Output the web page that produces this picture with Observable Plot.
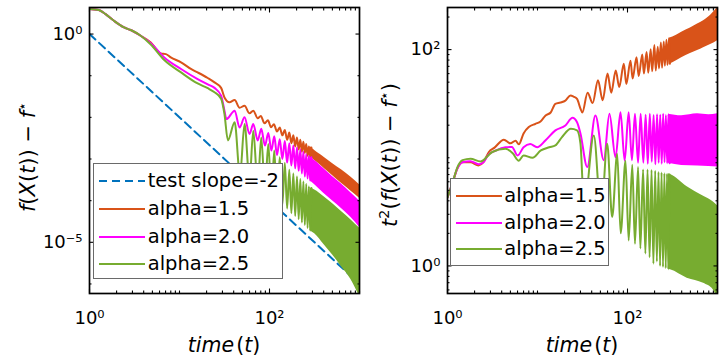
<!DOCTYPE html>
<html><head><meta charset="utf-8">
<script src="https://cdn.jsdelivr.net/npm/d3@7"></script>
<script src="https://cdn.jsdelivr.net/npm/@observablehq/plot@0.6"></script>
<style>
body{margin:0;background:#fff;}
#wrap{position:relative;width:727px;height:360px;overflow:hidden;font-family:"DejaVu Sans",sans-serif;color:#000;}
#wrap svg.plot{position:absolute;top:0;}
.lab{position:absolute;white-space:nowrap;font-size:20.5px;line-height:1;transform:translate(-50%,-50%);}
.ylab{transform:translate(-50%,-50%) rotate(-90deg);font-size:21px;}
.lab sup{font-size:0.68em;vertical-align:0.5em;line-height:0;}
.legend{position:absolute;background:#fff;border:1px solid #6a6a6a;box-sizing:border-box;}
.legend .row{position:absolute;left:0;height:0;}
.legend .row svg{position:absolute;top:-2px;}
.legend .row span{position:absolute;top:0;transform:translateY(-52%);white-space:nowrap;font-size:19.5px;line-height:1;}
</style></head>
<body><div id="wrap"></div>
<script>
// ---------- series names / colours ----------
const seriesNames = ["alpha=1.5", "alpha=2.0", "alpha=2.5"];
const seriesColors = ["#D95319", "#FF00FF", "#77AC30"];
const slopeName = "test slope=-2";
const slopeColor = "#0072BD";

// ---------- LEFT panel: f(X(t)) - f*  ----------
const slopeT = [1, 1000];
const slopeF = [1, 1e-6];

const tL15 = [1,1.27,1.51,1.87,2.42,2.87,3.71,4.8,6.2,7.07,8.0,10.4,13.4,15.9,20.6,24.5,29,31.6,35.9,41,46.5,52.8,60,66,74,80,88,96,104,112,121,130,139,148,157,166,175,184,193,202,211,220,229,238,247,256,265,274,283,292];
const fL15 = [4.0,3.76,3.0,2.08,1.44,1.25,0.91,0.63,0.34,0.33,0.275,0.21,0.145,0.12,0.088,0.069,0.051,0.030,0.023,0.026,0.017,0.019,0.0125,0.0145,0.0095,0.0108,0.0072,0.0085,0.0058,0.0068,0.0046,0.0057,0.0037,0.0050,0.0029,0.0043,0.0024,0.0037,0.0020,0.0033,0.0017,0.0029,0.0015,0.0026,0.0014,0.0023,0.0012,0.0020,0.0011,0.0019];
const tL20 = [1,1.27,1.51,1.87,2.42,2.87,3.71,4.8,6.77,10.4,15.9,20.6,24.5,29,31.6,33.2,41,46.5,52.8,60,66,74,81,89,97,105,113,121,130,139,148,157,166,175,184,193,202,211,220,229,238,247,256,265,274,283,292];
const fL20 = [4.0,3.76,3.0,2.08,1.44,1.25,0.91,0.60,0.275,0.145,0.083,0.062,0.051,0.033,0.0145,0.0091,0.0145,0.0057,0.0100,0.0040,0.0069,0.0028,0.0053,0.0021,0.0042,0.0016,0.0035,0.00125,0.0030,0.0010,0.0027,0.00082,0.0024,0.0007,0.0021,0.0006,0.0019,0.00052,0.0017,0.00045,0.0015,0.00038,0.0013,0.00034,0.0012,0.0003,0.0011];
const tL25 = [1,1.27,1.51,1.87,2.42,2.87,3.71,4.8,6.77,10.4,15.9,20.6,24.5,29,31.6,34.5,41,47,52.8,60,66,74,81,89,97,105,113,121,130,139,148,157,166,175,184,193,202,211,220,229,238,247,256,265,274,283,292];
const fL25 = [4.0,3.76,3.0,2.08,1.44,1.25,0.91,0.56,0.238,0.12,0.065,0.05,0.040,0.028,0.012,0.0028,0.0076,0.0004,0.0069,0.0003,0.0048,0.00022,0.0033,0.00017,0.0023,0.00013,0.0016,0.0001,0.0011,0.00008,0.0008,0.000065,0.00055,0.00005,0.00045,0.000043,0.00038,0.000036,0.00033,0.00003,0.00029,0.000026,0.00025,0.000022,0.00022,0.000019,0.0002];
// dense oscillation bands (upper / lower envelope)
const bandTL15 = [283,318,400,500,630,800,1000];
const hiL15 = [0.0020,0.0016,0.00112,0.00078,0.00055,0.00037,0.00024];
const loL15 = [0.0011,0.00092,0.00061,0.0004,0.00026,0.00017,0.000115];
const bandTL20 = [283,318,400,500,630,800,1000];
const hiL20 = [0.0011,0.00092,0.00059,0.00038,0.00025,0.000155,0.000098];
const loL20 = [0.0003,0.00024,0.00015,0.0001,0.000065,0.00004,0.000023];
const bandTL25 = [283,318,400,500,630,800,1000];
const hiL25 = [0.0002,0.00018,0.000125,0.000085,0.000055,0.000035,0.000022];
const loL25 = [0.000019,0.000016,0.000009,0.000005,0.0000026,0.0000013,0.0000005];

// ---------- RIGHT panel: t^2 (f(X(t)) - f*) ----------
const tR15 = [1,1.14,1.29,1.47,1.8,2.21,2.51,2.88,3.33,4.23,5.0,5.7,6.2,7.0,8.0,9.5,10.8,12.3,14,15.8,18,20.4,23.3,25.1,27.5,30,31.5,36,41,47,53,60,66,74,81,91,97,108,114,126,133,146,152,163,170,181,188,199,206,217,224,235,242,253,260,271,278,289,296];
const gR15 = [4.3,5.9,8.0,9.1,9.1,8.5,9.1,11.3,12.4,14.7,13.6,14.4,13.3,16.8,19.2,20.6,21.6,24.6,26.2,31.5,32.4,33.8,37.6,36.8,35,28.5,26.2,40,32,52,34,60,40,64,45,74,48,79,54,85,57,90,60,95,61,101,63,110,64,106,67,116,68,119,71,123,72,127,74];
const tR20 = [1,1.14,1.29,1.47,1.8,2.21,2.51,2.88,3.33,4.4,5.2,6.0,7.0,8.3,9.9,12.3,15.8,20.4,24.5,27.5,30,35.7,44,54.5,63,73.6,83.6,93,103,112,121,131,140,150,159,168,177,186,195,204,213,222,231,240,249,258,267,276,285,294];
const gR20 = [4.3,5.9,8.0,9.1,9.3,8.7,9.1,10.8,11.5,12.5,12.6,10.5,12.5,13.4,12.5,14.5,17.9,19.9,23.4,21.3,16.8,8.2,24.6,9.5,25.5,10.1,26.3,9.4,26.3,9.5,25.5,9.0,25.5,9.0,25,8.8,25.5,9.2,24.8,8.7,25.3,9.0,25,8.8,25.5,9.1,24.8,8.9,25.3,8.9];
const tR25 = [1,1.14,1.29,1.47,1.8,2.33,3.14,4.4,5.3,6.2,7.0,8.8,10.9,13.5,15.8,18.7,23.5,27.5,30,33,42.2,51,59.5,67.6,76.8,84,95,103,113,121,131,139,149,158,167,176,185,194,203,212,221,230,239,248,257,266,275,284,293];
const gR25 = [4.3,5.9,8.2,9.5,9.8,9.25,11.3,12.1,11.0,9.4,10.5,10.0,11.7,12.5,13.0,15.5,18.5,17.9,13.6,3.5,16.1,3.0,13.5,2.83,10.9,2.0,9.4,1.72,8.6,1.6,8.2,1.45,7.8,1.3,7.8,1.2,7.7,1.05,7.6,1.1,7.4,1.0,7.3,0.98,7.2,0.95,7.1,0.93,7.0];
const bandTR15 = [290,350,400,500,600,700,850,1000];
const hiR15 = [127,136,145,158,172,185,210,245];
const loR15 = [73,79,84,92,98,104,112,121];
const bandTR20 = [285,400,600,800,1000];
const hiR20 = [25.3,24.5,25.5,25,25.5];
const loR20 = [8.9,8.5,8.4,8.3,8.2];
const bandTR25 = [284,300,460,700,900,1000];
const hiR25 = [7.1,7.0,5.4,4.4,3.9,3.6];
const loR25 = [0.93,0.92,0.77,0.69,0.60,0.5];

// ---------- ticks ----------
const xMajor = [1, 100];
const xMinor = [2,3,4,5,6,7,8,9,10,20,30,40,50,60,70,80,90,200,300,400,500,600,700,800,900,1000];
const yMajorL = [1, 1e-5];
const yMinorL = [1e-6,1e-4,1e-3,1e-2,1e-1];
const yMajorR = [1, 100];
const yMinorR = [0.6,0.7,0.8,0.9,2,3,4,5,6,7,8,9,10,20,30,40,50,60,70,80,90,200];

const supMap = {"0":"⁰","1":"¹","2":"²","3":"³","4":"⁴","5":"⁵","6":"⁶","7":"⁷","8":"⁸","9":"⁹","-":"⁻"};
const fmt = d => "10" + String(Math.round(Math.log10(d))).split("").map(c => supMap[c]).join("");
const blank = () => "";

const rows = (ts, vs) => ts.map((t, i) => ({t, v: vs[i]}));
const bandRows = (ts, lo, hi) => ts.map((t, i) => ({t, lo: lo[i], hi: hi[i]}));

function axes(yMaj, yMin) {
  const o = {label: null, strokeWidth: 1.1};
  return [
    Plot.axisX(xMajor, {...o, anchor: "bottom", tickSize: -4.5, tickPadding: 22.5, tickFormat: fmt, fontSize: 18}),
    Plot.axisX(xMinor, {...o, anchor: "bottom", tickSize: -2.5, tickFormat: blank}),
    Plot.axisX(xMajor, {...o, anchor: "top", tickSize: -4.5, tickFormat: blank}),
    Plot.axisX(xMinor, {...o, anchor: "top", tickSize: -2.5, tickFormat: blank}),
    Plot.axisY(yMaj, {...o, anchor: "left", tickSize: -4.5, tickPadding: 11.5, tickFormat: fmt, fontSize: 18}),
    Plot.axisY(yMin, {...o, anchor: "left", tickSize: -2.5, tickFormat: blank}),
    Plot.axisY(yMaj, {...o, anchor: "right", tickSize: -4.5, tickFormat: blank}),
    Plot.axisY(yMin, {...o, anchor: "right", tickSize: -2.5, tickFormat: blank}),
    Plot.frame({stroke: "#000", strokeWidth: 1.7})
  ];
}

function seriesMarks(lines, bands) {
  const m = [];
  lines.forEach((L, i) => {
    m.push(Plot.areaY(bands[i], {x: "t", y1: "lo", y2: "hi", fill: seriesColors[i], curve: "monotone-x", clip: true}));
    m.push(Plot.line(L, {x: "t", y: "v", stroke: seriesColors[i], strokeWidth: 2, curve: "monotone-x", clip: true}));
  });
  return m;
}

const plotStyle = {fontFamily: "DejaVu Sans", fontSize: "18px", color: "#000", background: "none", overflow: "visible"};

const leftPlot = Plot.plot({
  width: 364, height: 360, marginTop: 7, marginBottom: 67, marginLeft: 89, marginRight: 5,
  style: plotStyle,
  x: {type: "log", domain: [1, 1000]},
  y: {type: "log", domain: [5.9e-7, 4.34]},
  marks: [
    Plot.line(rows(slopeT, slopeF), {x: "t", y: "v", stroke: slopeColor, strokeWidth: 2, strokeDasharray: "8,5", clip: true}),
    ...seriesMarks(
      [rows(tL15, fL15), rows(tL20, fL20), rows(tL25, fL25)],
      [bandRows(bandTL15, loL15, hiL15), bandRows(bandTL20, loL20, hiL20), bandRows(bandTL25, loL25, hiL25)]
    ),
    ...axes(yMajorL, yMinorL)
  ]
});

const rightPlot = Plot.plot({
  width: 363, height: 360, marginTop: 7, marginBottom: 67, marginLeft: 83, marginRight: 10,
  style: plotStyle,
  x: {type: "log", domain: [1, 1000]},
  y: {type: "log", domain: [0.556, 245]},
  marks: [
    ...seriesMarks(
      [rows(tR15, gR15), rows(tR20, gR20), rows(tR25, gR25)],
      [bandRows(bandTR15, loR15, hiR15), bandRows(bandTR20, loR20, hiR20), bandRows(bandTR25, loR25, hiR25)]
    ),
    ...axes(yMajorR, yMinorR)
  ]
});

const wrap = document.getElementById("wrap");
leftPlot.classList.add("plot"); leftPlot.style.left = "0px";
rightPlot.classList.add("plot"); rightPlot.style.left = "364px";
wrap.appendChild(leftPlot);
wrap.appendChild(rightPlot);

function addLabel(html, x, y, cls) {
  const d = document.createElement("div");
  d.className = "lab" + (cls ? " " + cls : "");
  d.style.left = x + "px"; d.style.top = y + "px";
  d.innerHTML = html;
  wrap.appendChild(d);
}
const xTitle = "<i>time</i>&#8202;(<i>t</i>)";
addLabel(xTitle, 224, 345);
addLabel(xTitle, 582, 345);
addLabel("<i>f</i>(<i>X</i>(<i>t</i>)) &minus; <i>f</i><sup>⋆</sup>", 28, 157, "ylab");
addLabel("<i>t</i><sup>2</sup>(<i>f</i>(<i>X</i>(<i>t</i>)) &minus; <i>f</i><sup>⋆</sup>)", 390, 155, "ylab");

function addLegend(box, entries) {
  const div = document.createElement("div");
  div.className = "legend";
  Object.assign(div.style, {left: box.x + "px", top: box.y + "px", width: box.w + "px", height: box.h + "px"});
  entries.forEach((e, i) => {
    const row = document.createElement("div");
    row.className = "row";
    row.style.top = (box.row0 + i * box.rowH) + "px";
    const dash = e.dash ? ` stroke-dasharray="8,5"` : "";
    row.innerHTML = `<svg width="46" height="4" style="left:${box.lineX}px"><line x1="0" x2="46" y1="2" y2="2" stroke="${e.color}" stroke-width="2"${dash}/></svg><span style="left:${box.textX}px">${e.label}</span>`;
    div.appendChild(row);
  });
  wrap.appendChild(div);
}
addLegend({x: 92.7, y: 162.7, w: 190.6, h: 116.6, row0: 17.3, rowH: 27.8, lineX: 5.6, textX: 54},
  [{label: slopeName, color: slopeColor, dash: true}, ...seriesNames.map((n, i) => ({label: n, color: seriesColors[i]}))]);
addLegend({x: 450, y: 178, w: 159, h: 88, row0: 17, rowH: 26.7, lineX: 5, textX: 53.3},
  seriesNames.map((n, i) => ({label: n, color: seriesColors[i]})));
</script>
</body></html>
